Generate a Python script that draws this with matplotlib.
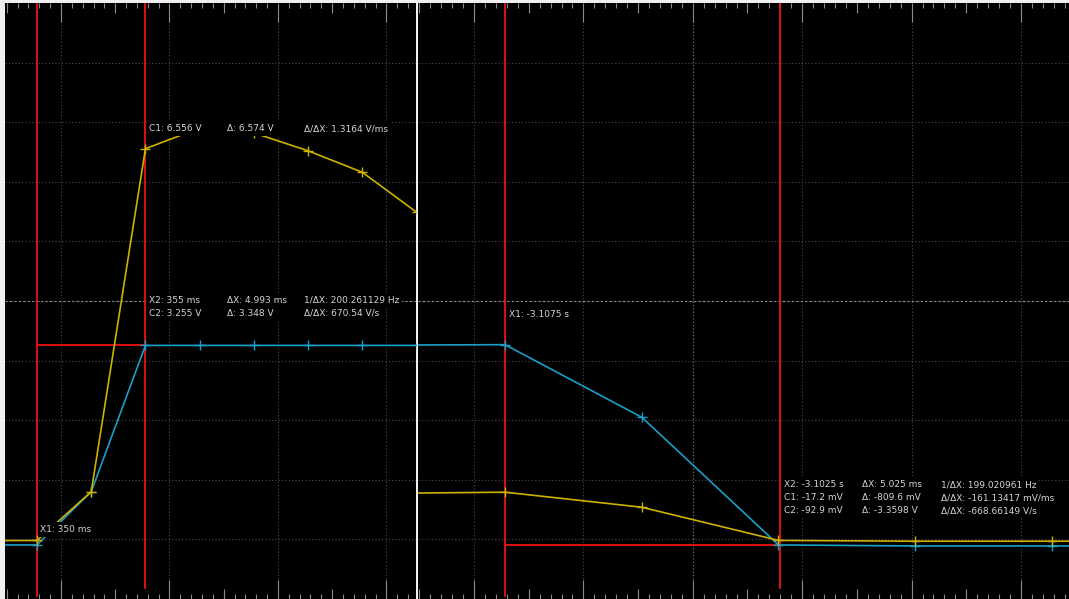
import matplotlib
matplotlib.use("Agg")
import matplotlib.pyplot as plt
import numpy as np
from matplotlib.patches import Rectangle

# ---------------- data ----------------
# left capture: time in ms, channel voltages in V
left_time = [347.5, 350.0, 352.5, 355.0, 357.5, 360.0, 362.5, 365.0, 367.5]
left_ch1 = [-0.02, -0.018, 0.80, 6.556, 6.90, 6.82, 6.52, 6.16, 5.49]
left_ch2 = [-0.093, -0.093, 0.80, 3.255, 3.255, 3.255, 3.255, 3.255, 3.255]
left_x1, left_x2 = 350.0, 354.993
left_c1_x1, left_c1_x2 = -0.018, 6.556
left_c2_x1, left_c2_x2 = -0.093, 3.255
left_x1_label = "X1: 350 ms"
left_c1_row = ["C1: 6.556 V", "Δ: 6.574 V", "Δ/ΔX: 1.3164 V/ms"]
left_x2_row = ["X2: 355 ms", "ΔX: 4.993 ms", "1/ΔX: 200.261129 Hz"]
left_c2_row = ["C2: 3.255 V", "Δ: 3.348 V", "Δ/ΔX: 670.54 V/s"]

# right capture: time in ms, channel voltages in V
right_time = [-3110.0, -3107.5, -3105.0, -3102.5, -3100.0, -3097.5, -3095.0]
right_ch1 = [0.77, 0.792, 0.54, -0.017, -0.03, -0.03, -0.03]
right_ch2 = [3.26, 3.267, 2.05, -0.093, -0.11, -0.11, -0.11]
right_x1, right_x2 = -3107.5, -3102.475
right_c1_x1, right_c1_x2 = 0.792, -0.0172
right_c2_x1, right_c2_x2 = 3.267, -0.0929
right_x1_label = "X1: -3.1075 s"
right_x2_row = ["X2: -3.1025 s", "ΔX: 5.025 ms", "1/ΔX: 199.020961 Hz"]
right_c1_row = ["C1: -17.2 mV", "Δ: -809.6 mV", "Δ/ΔX: -161.13417 mV/ms"]
right_c2_row = ["C2: -92.9 mV", "Δ: -3.3598 V", "Δ/ΔX: -668.66149 V/s"]

# ---------------- style ----------------
YELLOW = "#cdb300"
BLUE = "#1a9fc8"
RED = "#ff1414"
TXT = "#d4d4d4"
FS = 6.5
plt.rcParams["font.family"] = ["DejaVu Sans"]

W, H = 1069, 599
fig = plt.figure(figsize=(W / 100, H / 100), dpi=100, facecolor="#f0f0f0")
axL = fig.add_axes([5 / W, 0, (416 - 5) / W, 596 / H])
axR = fig.add_axes([418 / W, 0, (W - 418) / W, 596 / H])


def setup(ax, xmin, xmax, grid0, div, bright=None):
    ax.set_facecolor("black")
    ax.set_xlim(xmin, xmax)
    ax.set_ylim(-1, 9)
    for s in ax.spines.values():
        s.set_visible(False)
    k0 = int(np.floor((xmin - grid0) / div)) - 1
    k1 = int(np.ceil((xmax - grid0) / div)) + 1
    ks = np.arange(k0, k1 + 1)
    majors = grid0 + div * ks
    minors = grid0 + div / 10 * np.arange(k0 * 10, k1 * 10 + 1)
    halves = grid0 + div * (ks + 0.5)
    ax.set_xticks(majors)
    ax.set_xticks(minors, minor=True)
    ax.set_xlim(xmin, xmax)
    ax.set_yticks(np.arange(0, 9))
    ax.tick_params(axis="x", which="major", direction="in", length=14,
                   width=0.8, color="#8a8a8a", top=True, bottom=True,
                   labelbottom=False, labeltop=False)
    ax.tick_params(axis="x", which="minor", direction="in", length=3.6,
                   width=0.8, color="#8a8a8a", top=True, bottom=True)
    ax.tick_params(axis="y", which="both", length=0, labelleft=False)
    ax.grid(True, which="major", color="#4a4a4a", linestyle=(0, (1, 2)),
            linewidth=0.8)
    ax.axhline(4, color="#8c8c8c", linestyle=(0, (2, 2)), lw=0.8, zorder=1.6)
    if bright is not None:
        ax.axvline(grid0 + div * bright, color="#6e6e6e",
                   linestyle=(0, (1, 2)), lw=0.8, zorder=1.6)
    tr = ax.get_xaxis_transform()
    h = 10 / 596
    ax.vlines(halves, 0, h, transform=tr, color="#8a8a8a", lw=0.8)
    ax.vlines(halves, 1 - h, 1, transform=tr, color="#8a8a8a", lw=0.8)


setup(axL, 348.525, 367.474, 351.107, 5.0)
setup(axR, -3109.0905, -3097.189, -3108.067, 2.0, bright=2)


def traces(ax, t, c1, c2, x1, x2, c2_at_x2):
    ax.axvline(x1, ymin=0.005, color=RED, lw=1.2, zorder=2)
    ax.axvline(x2, ymin=0.018, color=RED, lw=1.2, zorder=2)
    ax.hlines(c2_at_x2, x1, x2, color=RED, lw=1.2, zorder=2)
    ax.plot(t, c2, color=BLUE, lw=1.2, marker="+", ms=7, mew=1.0, zorder=3)
    ax.plot(t, c1, color=YELLOW, lw=1.2, marker="+", ms=7, mew=1.0, zorder=3.1)


traces(axL, left_time, left_ch1, left_ch2, left_x1, left_x2, left_c2_x2)
traces(axR, right_time, right_ch1, right_ch2, right_x1, right_x2, right_c2_x2)

rows = []  # (ax, [text artists])


def row(ax, xy, dy, labels, cols=(4, 82, 159)):
    arts = []
    for dx, s in zip(cols, labels):
        a = ax.annotate(s, xy=xy, xytext=(dx, dy), textcoords="offset pixels",
                        ha="left", va="center", color=TXT, fontsize=FS,
                        zorder=6)
        arts.append(a)
    rows.append((ax, arts))


# left panel labels
row(axL, (left_x1, left_c1_x1), 11, [left_x1_label], cols=(3,))
row(axL, (left_x2, left_c1_x2), 20, left_c1_row)
row(axL, (left_x2, left_c2_x2), 45, left_x2_row)
row(axL, (left_x2, left_c2_x2), 32, left_c2_row)

# right panel labels
row(axR, (right_x1, right_c2_x1), 30, [right_x1_label], cols=(4,))
row(axR, (right_x2, right_c2_x2), 60, right_x2_row, cols=(4, 82, 161))
row(axR, (right_x2, right_c2_x2), 47, right_c1_row, cols=(4, 82, 161))
row(axR, (right_x2, right_c2_x2), 34, right_c2_row, cols=(4, 82, 161))

# black backing boxes behind each label row (hide traces like the scope does)
fig.canvas.draw()
rend = fig.canvas.get_renderer()
for ax, arts in rows:
    exts = [a.get_window_extent(rend) for a in arts]
    x0 = min(e.x0 for e in exts) - 2
    x1 = max(e.x1 for e in exts) + 2
    yc = np.mean([(e.y0 + e.y1) / 2 for e in exts])
    inv = ax.transAxes.inverted()
    (ax0, ay0), (ax1, ay1) = inv.transform([(x0, yc - 7.5), (x1, yc + 7.5)])
    ax.add_patch(Rectangle((ax0, ay0), ax1 - ax0, ay1 - ay0,
                           transform=ax.transAxes, facecolor="black",
                           edgecolor="none", zorder=5))

fig.savefig("out.png", dpi=100, facecolor=fig.get_facecolor())
